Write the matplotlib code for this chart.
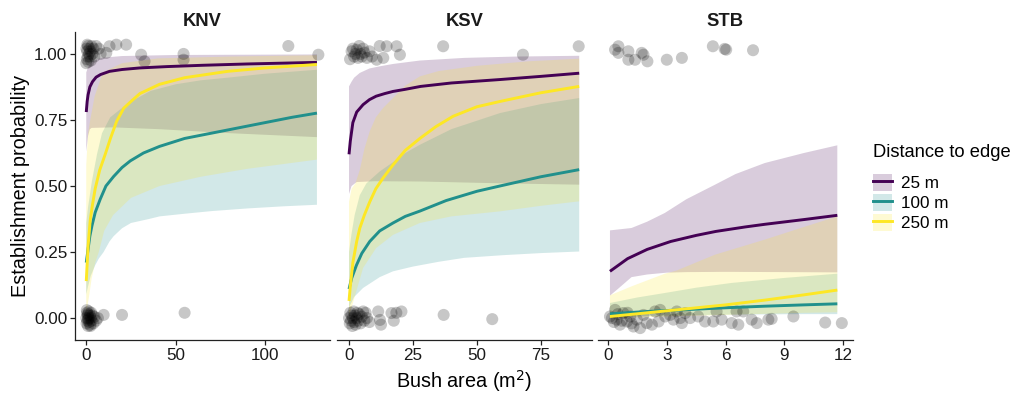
import matplotlib
matplotlib.use("Agg")
import matplotlib.pyplot as plt
from matplotlib.patches import Patch
from matplotlib.lines import Line2D

# ---------------- data ----------------
sites = ["KNV", "KSV", "STB"]
distances = ["25 m", "100 m", "250 m"]
colors = ["#440154", "#21908C", "#FDE725"]

# KNV fitted curves and confidence bounds
knv25_x = [0, 0.5, 1, 2, 3.5, 5.5, 8, 13, 20, 30, 45, 65, 90, 129]
knv25_y = [0.78, 0.82, 0.845, 0.875, 0.895, 0.912, 0.922, 0.934, 0.941, 0.947, 0.952, 0.957, 0.962, 0.968]
knv25_up_x = [0, 1, 3, 8, 20, 50, 129]
knv25_up_y = [0.93, 0.95, 0.97, 0.985, 0.992, 0.996, 0.998]
knv25_lo_x = [0, 1, 2, 3, 15, 41, 80, 129]
knv25_lo_y = [0.63, 0.69, 0.715, 0.72, 0.722, 0.715, 0.70, 0.685]

knv100_x = [0, 1, 2, 3.2, 5, 7.8, 11, 15.3, 20, 24.6, 32, 41, 55, 70, 85, 100, 115, 129]
knv100_y = [0.21, 0.26, 0.31, 0.35, 0.40, 0.45, 0.50, 0.536, 0.57, 0.595, 0.625, 0.65, 0.68, 0.70, 0.72, 0.74, 0.76, 0.776]
knv100_up_x = [0, 1, 3.2, 6, 8.8, 13.4, 19, 25, 36, 50, 64, 79, 100, 129]
knv100_up_y = [0.36, 0.42, 0.52, 0.62, 0.70, 0.76, 0.79, 0.82, 0.86, 0.885, 0.90, 0.91, 0.925, 0.94]
knv100_lo_x = [0, 1, 2.5, 5, 7, 9.7, 13, 15.3, 20, 25, 35, 41, 55, 70, 90, 110, 129]
knv100_lo_y = [0.09, 0.12, 0.16, 0.2, 0.225, 0.25, 0.29, 0.31, 0.34, 0.36, 0.375, 0.385, 0.395, 0.405, 0.415, 0.423, 0.429]

knv250_x = [0, 1, 2.2, 3.5, 5, 7.5, 10.6, 13.5, 17, 21, 25, 30, 41, 55, 79, 100, 129]
knv250_y = [0.14, 0.27, 0.37, 0.43, 0.49, 0.56, 0.62, 0.68, 0.745, 0.795, 0.82, 0.85, 0.885, 0.91, 0.934, 0.947, 0.96]
knv250_up_x = [0, 1, 2.5, 4.7, 9.3, 20, 40, 80, 129]
knv250_up_y = [0.58, 0.70, 0.76, 0.84, 0.93, 0.965, 0.983, 0.99, 0.995]
knv250_lo_x = [0, 1.5, 3, 5, 7, 10, 15, 25, 41, 64, 90, 129]
knv250_lo_y = [0.02, 0.08, 0.15, 0.21, 0.25, 0.33, 0.39, 0.455, 0.50, 0.535, 0.565, 0.60]

# KSV
ksv25_x = [0, 0.5, 1.5, 3, 5.5, 8, 10.6, 14, 17.2, 22, 28, 40, 59, 75, 90]
ksv25_y = [0.62, 0.67, 0.74, 0.78, 0.808, 0.827, 0.84, 0.85, 0.858, 0.866, 0.877, 0.89, 0.903, 0.915, 0.927]
ksv25_up_x = [0, 1, 2, 4.2, 8, 12, 17.2, 27.7, 45, 65, 90]
ksv25_up_y = [0.877, 0.895, 0.91, 0.928, 0.945, 0.953, 0.962, 0.975, 0.985, 0.99, 0.993]
ksv25_lo_x = [0, 1, 3, 10, 27.7, 60, 90]
ksv25_lo_y = [0.47, 0.50, 0.515, 0.518, 0.517, 0.51, 0.505]

ksv100_x = [0, 1, 2.9, 5, 8.1, 12, 17.2, 22, 27.7, 38, 50, 59, 75, 90]
ksv100_y = [0.11, 0.15, 0.20, 0.245, 0.29, 0.33, 0.36, 0.385, 0.405, 0.445, 0.48, 0.50, 0.535, 0.562]
ksv100_up_x = [0, 1, 2.2, 4.2, 6.8, 12, 17.2, 22, 27.7, 40, 59, 75, 90]
ksv100_up_y = [0.25, 0.32, 0.39, 0.465, 0.51, 0.555, 0.59, 0.625, 0.656, 0.715, 0.776, 0.81, 0.833]
ksv100_lo_x = [0, 2, 5.5, 12, 17.2, 25, 35, 45, 60, 75, 90]
ksv100_lo_y = [0.04, 0.08, 0.114, 0.155, 0.177, 0.195, 0.213, 0.228, 0.238, 0.246, 0.252]

ksv250_x = [0, 0.5, 1.5, 3, 4.2, 6, 8.1, 10.5, 13.3, 17.2, 22, 27.7, 34, 40.7, 50, 59, 75, 90]
ksv250_y = [0.065, 0.12, 0.21, 0.29, 0.34, 0.39, 0.44, 0.49, 0.53, 0.58, 0.635, 0.68, 0.725, 0.764, 0.80, 0.82, 0.853, 0.877]
ksv250_up_x = [0, 1, 2.5, 4.2, 6, 8.1, 10.5, 13.3, 17.2, 22, 27.7, 35, 50, 70, 90]
ksv250_up_y = [0.44, 0.49, 0.51, 0.56, 0.64, 0.707, 0.76, 0.795, 0.833, 0.88, 0.915, 0.935, 0.955, 0.972, 0.982]
ksv250_lo_x = [0, 1, 2.5, 5.5, 10.6, 17.2, 27.7, 40, 59, 75, 90]
ksv250_lo_y = [0.01, 0.04, 0.09, 0.19, 0.265, 0.315, 0.36, 0.385, 0.404, 0.425, 0.442]

# STB
stb25_x = [0.1, 1, 2, 3.2, 4.5, 5.5, 7, 8, 10, 11.7]
stb25_y = [0.177, 0.225, 0.26, 0.29, 0.313, 0.328, 0.345, 0.355, 0.373, 0.389]
stb25_up_x = [0.1, 1.2, 2, 2.9, 4, 5.46, 6.5, 8.0, 10, 11.7]
stb25_up_y = [0.332, 0.341, 0.365, 0.398, 0.45, 0.505, 0.545, 0.587, 0.625, 0.654]
stb25_lo_x = [0.1, 0.5, 1.2, 2, 3, 4, 6, 9, 11.7]
stb25_lo_y = [0.085, 0.11, 0.155, 0.165, 0.172, 0.174, 0.175, 0.174, 0.173]

stb100_x = [0.1, 2, 4, 6, 8, 10, 11.7]
stb100_y = [0.016, 0.025, 0.032, 0.039, 0.045, 0.05, 0.054]
stb100_up_x = [0.1, 1.5, 2.9, 4.5, 6.3, 9, 11.7]
stb100_up_y = [0.057, 0.078, 0.095, 0.115, 0.133, 0.152, 0.168]
stb100_lo_x = [0.1, 2, 4, 6, 8, 10, 11.7]
stb100_lo_y = [0.004, 0.008, 0.011, 0.013, 0.014, 0.015, 0.015]

stb250_x = [0.1, 2, 4, 6, 8, 10, 11.7]
stb250_y = [0.006, 0.02, 0.035, 0.05, 0.068, 0.088, 0.106]
stb250_up_x = [0.1, 1.2, 2.9, 3.5, 5.46, 8.0, 10, 11.7]
stb250_up_y = [0.086, 0.12, 0.168, 0.18, 0.24, 0.297, 0.345, 0.385]
stb250_lo_x = [0.1, 2, 4, 6, 8, 10, 11.7]
stb250_lo_y = [0.001, 0.004, 0.008, 0.012, 0.016, 0.02, 0.022]

# observed (jittered) points
knv_pts_x = [0.1, 0.3, 0.5, 0.8, 1.0, 1.2, 1.5, 1.8, 2.0, 2.3, 2.6, 3.0, 3.4, 4.0, 4.5, 5.5, 7.0, 8.0,
             11.2, 13.0, 16.8, 22.3, 30.7, 32.6, 54.4, 54.4, 113.0, 129.8, 0.0, 0.6,
             0.0, 0.2, 0.4, 0.6, 0.8, 1.0, 1.2, 1.5, 1.7, 2.0, 2.2, 2.5, 2.8, 3.0, 3.5, 4.0, 4.5,
             5.5, 6.5, 9.7, 20.0, 55.0, 0.3, 1.1, 2.4, 0.9]
knv_pts_y = [1.02, 0.98, 1.01, 0.99, 1.03, 0.97, 1.0, 1.02, 0.99, 1.01, 0.975, 1.03, 1.0, 1.02, 0.99, 1.03, 1.02, 1.0,
             1.004, 1.029, 1.035, 1.035, 0.997, 0.972, 1.0, 0.978, 1.03, 0.997, 0.965, 1.035,
             0.0, -0.02, 0.02, -0.01, 0.01, -0.03, 0.0, 0.025, -0.015, 0.01, -0.025, 0.0, 0.02, -0.01, 0.01, -0.02, 0.005,
             -0.01, 0.0, 0.012, 0.012, 0.02, 0.03, -0.005, -0.03, 0.015]

ksv_pts_x = [0.4, 1.0, 1.5, 2.0, 2.5, 3.0, 3.5, 4.0, 4.5, 5.0, 5.5, 6.0, 7.0, 8.0, 9.0, 10.8, 12.0, 13.4,
             14.7, 18.6, 19.9, 36.8, 68.0, 89.8,
             0.0, 0.3, 0.5, 0.8, 1.0, 1.3, 1.5, 1.8, 2.0, 2.3, 2.6, 3.0, 3.3, 3.6, 4.0, 4.5, 5.0,
             5.5, 6.0, 6.5, 7.0, 8.0, 11.4, 12.1, 12.5, 16.6, 17.5, 18.5, 20.5, 37.0, 56.0]
ksv_pts_y = [0.98, 1.01, 1.02, 0.99, 1.0, 1.016, 0.985, 1.03, 1.0, 0.99, 1.02, 1.005, 0.985, 1.01, 0.99, 0.978, 1.03, 0.985,
             1.029, 1.029, 0.997, 1.029, 0.997, 1.029,
             0.0, -0.02, 0.02, -0.01, 0.01, -0.03, 0.0, 0.025, -0.015, 0.01, -0.025, 0.0, 0.02, -0.01, 0.015, -0.02, 0.005,
             0.025, -0.01, 0.02, 0.0, -0.015, 0.025, -0.007, -0.025, 0.019, -0.01, 0.02, 0.025, 0.012, -0.004]

stb_pts_x = [0.36, 0.53, 0.53, 1.04, 1.04, 1.38, 1.72, 1.81, 2.01, 3.0, 3.77, 5.35, 5.95, 6.03, 7.4,
             0.1, 0.36, 0.44, 0.61, 0.78, 0.96, 1.13, 1.3, 1.47, 1.64, 1.81, 1.98, 2.24, 2.4, 2.58, 2.66,
             2.92, 3.17, 3.34, 3.51, 3.68, 3.77, 3.94, 4.19, 0.2, 0.5, 0.7, 1.0, 1.2, 0.3,
             4.6, 4.95, 5.37, 5.54, 5.8, 6.31, 6.56, 6.65, 6.9, 7.33, 7.59, 8.18, 8.35, 9.46, 11.08, 11.93]
stb_pts_y = [1.016, 1.029, 1.004, 1.01, 0.978, 0.978, 1.004, 0.997, 0.972, 0.978, 0.985, 1.029, 1.019, 1.016, 1.014,
             0.006, 0.031, -0.006, -0.025, 0.019, -0.013, 0.006, -0.032, -0.006, -0.038, 0.012, -0.019, -0.025, 0.025, -0.013, 0.031,
             0.006, 0.012, -0.006, 0.025, 0.0, -0.019, 0.019, 0.0, 0.0, 0.015, -0.01, 0.02, -0.02, -0.015,
             0.006, -0.013, -0.013, 0.025, -0.006, -0.019, 0.025, -0.025, 0.025, -0.006, -0.019, -0.006, -0.003, 0.006, -0.017, -0.019]

x_ticks = [[0, 50, 100], [0, 25, 50, 75], [0, 3, 6, 9, 12]]
x_limits = [(-6.3, 136.3), (-4.7, 95.0), (-0.51, 12.5)]
y_ticks = [0, 0.25, 0.5, 0.75, 1.0]
y_ticklabels = ["0.00", "0.25", "0.50", "0.75", "1.00"]

curves = {
    "KNV": [(knv25_x, knv25_y, knv25_up_x, knv25_up_y, knv25_lo_x, knv25_lo_y),
            (knv100_x, knv100_y, knv100_up_x, knv100_up_y, knv100_lo_x, knv100_lo_y),
            (knv250_x, knv250_y, knv250_up_x, knv250_up_y, knv250_lo_x, knv250_lo_y)],
    "KSV": [(ksv25_x, ksv25_y, ksv25_up_x, ksv25_up_y, ksv25_lo_x, ksv25_lo_y),
            (ksv100_x, ksv100_y, ksv100_up_x, ksv100_up_y, ksv100_lo_x, ksv100_lo_y),
            (ksv250_x, ksv250_y, ksv250_up_x, ksv250_up_y, ksv250_lo_x, ksv250_lo_y)],
    "STB": [(stb25_x, stb25_y, stb25_up_x, stb25_up_y, stb25_lo_x, stb25_lo_y),
            (stb100_x, stb100_y, stb100_up_x, stb100_up_y, stb100_lo_x, stb100_lo_y),
            (stb250_x, stb250_y, stb250_up_x, stb250_up_y, stb250_lo_x, stb250_lo_y)],
}
points = {"KNV": (knv_pts_x, knv_pts_y), "KSV": (ksv_pts_x, ksv_pts_y), "STB": (stb_pts_x, stb_pts_y)}

# ---------------- figure ----------------
plt.rcParams['font.family'] = ['Liberation Sans', 'DejaVu Sans']
fig = plt.figure(figsize=(10.13, 3.94), dpi=100)
W, H = 1013, 394
lefts = [75, 337, 598]
aw = 255
top_px, bot_px = 32, 340

axes = []
for i, site in enumerate(sites):
    ax = fig.add_axes([lefts[i] / W, 1 - bot_px / H, aw / W, (bot_px - top_px) / H])
    axes.append(ax)
    # ribbons
    for (fx, fy, ux, uy, lx, ly), c in zip(curves[site], colors):
        px = list(ux) + list(lx)[::-1]
        py = list(uy) + list(ly)[::-1]
        ax.fill(px, py, facecolor=c, alpha=0.2, edgecolor='none', zorder=1)
    # points
    ptx, pty = points[site]
    ax.scatter(ptx, pty, s=75, color='black', alpha=0.22, edgecolors='none', zorder=2)
    # lines
    for (fx, fy, ux, uy, lx, ly), c in zip(curves[site], colors):
        ax.plot(fx, fy, color=c, lw=2.1, zorder=3, solid_capstyle='butt')

    ax.set_xlim(*x_limits[i])
    ax.set_ylim(-0.083, 1.083)
    ax.set_xticks(x_ticks[i])
    ax.set_xticklabels([str(t) for t in x_ticks[i]])
    ax.set_yticks(y_ticks)
    ax.set_title(site, fontweight='bold', fontsize=13.2, pad=4.5, color='#1a1a1a')
    for s in ['top', 'right']:
        ax.spines[s].set_visible(False)
    ax.spines['bottom'].set_linewidth(0.9)
    ax.spines['bottom'].set_color('#222222')
    ax.tick_params(axis='both', length=3.5, width=0.9, color='#222222', labelsize=12.3,
                   labelcolor='#1a1a1a', pad=2)
    if i == 0:
        ax.set_yticklabels(y_ticklabels)
        ax.spines['left'].set_linewidth(0.9)
        ax.spines['left'].set_color('#222222')
        ax.set_ylabel("Establishment probability", fontsize=14.3, labelpad=3)
    else:
        ax.spines['left'].set_visible(False)
        ax.tick_params(axis='y', left=False, labelleft=False)

fig.text((75 + 853) / 2 / W, 1 - 381 / H, "Bush area (m$^2$)", ha='center', va='center', fontsize=14.3)

handles = [(Patch(facecolor=c, alpha=0.2, edgecolor='none'), Line2D([], [], color=c, lw=2.1))
           for c in colors]
leg = fig.legend(handles, distances, loc='upper left', bbox_to_anchor=(873 / W, 1 - 144 / H),
                 frameon=False, fontsize=12.3, title="Distance to edge", title_fontsize=13.2,
                 handlelength=1.1, handleheight=1.2, labelspacing=0.15, handletextpad=0.55,
                 borderaxespad=0, borderpad=0)
leg._legend_box.align = "left"
leg._legend_box.sep = 9

fig.savefig("out.png", dpi=100)
